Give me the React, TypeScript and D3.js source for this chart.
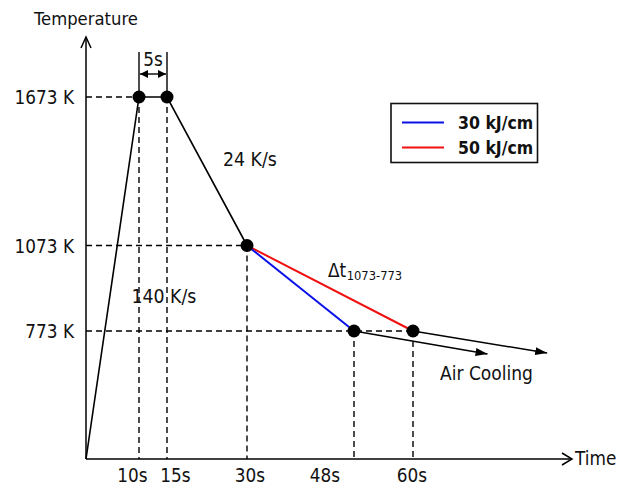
import React from "react";
import * as d3 from "d3";

// ---- data ----
const profileTimes = [0, 10, 15, 30];
const profileTemps = [0, 1673, 1673, 1073];
const pointTimes = [10, 15, 30, 48, 60];
const pointTemps = [1673, 1673, 1073, 773, 773];
const series30Times = [30, 48];
const series30Temps = [1073, 773];
const series50Times = [30, 60];
const series50Temps = [1073, 773];
const airStartTimes = [48, 60];
const airStartTemps = [773, 773];
const airEndTimes = [75, 87];
const airEndTemps = [634, 640];
const xTickValues = [10, 15, 30, 48, 60];
const xTickLabels = ["10s", "15s", "30s", "48s", "60s"];
const yTickValues = [1673, 1073, 773];
const yTickLabels = ["1673 K", "1073 K", "773 K"];
const legendLabels = ["30 kJ/cm", "50 kJ/cm"];
const seriesColors = ["#0a12e8", "#f01010"];

// ---- layout ----
const W = 631;
const H = 486;
const FONT = "'DejaVu Sans Condensed', 'DejaVu Sans', sans-serif";
const FS = 18.8;
const xLabelNudge = [-6.5, 8.5, 3, -29, -1];

const x = d3
  .scaleLinear()
  .domain([0, 10, 15, 30, 48, 60, 92])
  .range([86, 139, 167, 247, 354, 413, 572]);
const y = d3
  .scaleLinear()
  .domain([0, 773, 1073, 1673, 1916])
  .range([459, 331, 245.5, 97, 37]);

const line = d3
  .line<[number, number]>()
  .x((d) => x(d[0]))
  .y((d) => y(d[1]));

const zip = (a: number[], b: number[]) => a.map((v, i) => [v, b[i]] as [number, number]);

export default function App() {
  const x0 = x(0);
  const y0 = y(0);
  const xEnd = x(92);
  const yEnd = y(1916);
  const dash = "6,4";
  return (
    <svg
      width={W}
      height={H}
      style={{ position: "absolute", left: 0, top: 0, background: "#fff" }}
      fontFamily={FONT}
      fontStretch="condensed"
    >
      <defs>
        <marker id="tri" viewBox="0 0 12 8" refX="12" refY="4" markerWidth="12" markerHeight="8" markerUnits="userSpaceOnUse" orient="auto">
          <path d="M0,0 L12,4 L0,8 Z" fill="#000" />
        </marker>
        <marker id="dbl" viewBox="0 0 8 8" refX="8" refY="4" markerWidth="8" markerHeight="8" markerUnits="userSpaceOnUse" orient="auto-start-reverse">
          <path d="M0,0 L8,4 L0,8 Z" fill="#000" />
        </marker>
      </defs>

      {/* axes */}
      <line x1={x0} y1={y0} x2={x0} y2={yEnd} stroke="#000" strokeWidth={1.5} />
      <polyline points={`${x0 - 5},${yEnd + 11} ${x0},${yEnd} ${x0 + 5},${yEnd + 11}`} fill="none" stroke="#000" strokeWidth={1.5} />
      <line x1={x0} y1={y0} x2={xEnd} y2={y0} stroke="#000" strokeWidth={1.5} />
      <polyline points={`${xEnd - 10},${y0 - 6} ${xEnd},${y0} ${xEnd - 10},${y0 + 6}`} fill="none" stroke="#000" strokeWidth={1.5} />
      <text x={x0} y={25} fontSize={18.3} textAnchor="middle" fill="#111">Temperature</text>
      <text x={xEnd + 3} y={465} fontSize={FS} fill="#111">Time</text>

      {/* horizontal dashed guides */}
      {yTickValues.map((t, i) => {
        const reachTime = d3.max(pointTimes.filter((_, j) => pointTemps[j] === t)) as number;
        const xr = t === 1673 ? x(d3.min(pointTimes.filter((_, j) => pointTemps[j] === t)) as number) : x(reachTime);
        return (
          <g key={"h" + i}>
            <line x1={x0} y1={y(t)} x2={xr} y2={y(t)} stroke="#000" strokeWidth={1.4} strokeDasharray={dash} />
            <text x={74} y={y(t) + 7} fontSize={FS} textAnchor="end" fill="#111">{yTickLabels[i]}</text>
          </g>
        );
      })}

      {/* vertical dashed guides */}
      {xTickValues.map((t, i) => {
        const T = pointTemps[pointTimes.indexOf(t)];
        return (
          <g key={"v" + i}>
            <line x1={x(t)} y1={y(T)} x2={x(t)} y2={y0} stroke="#000" strokeWidth={1.4} strokeDasharray={dash} />
            <text x={x(t) + xLabelNudge[i]} y={481.5} fontSize={FS} textAnchor="middle" fill="#111">{xTickLabels[i]}</text>
          </g>
        );
      })}

      {/* 5s bracket */}
      <line x1={x(10)} y1={52} x2={x(10)} y2={y(1673)} stroke="#000" strokeWidth={1.4} />
      <line x1={x(15)} y1={52} x2={x(15)} y2={y(1673)} stroke="#000" strokeWidth={1.4} />
      <line x1={x(10) + 1} y1={74} x2={x(15) - 1} y2={74} stroke="#000" strokeWidth={1.4} markerStart="url(#dbl)" markerEnd="url(#dbl)" />
      <text x={(x(10) + x(15)) / 2} y={65.5} fontSize={FS} textAnchor="middle" fill="#111">5s</text>

      {/* cooling series */}
      <path d={line(zip(series50Times, series50Temps)) || ""} fill="none" stroke={seriesColors[1]} strokeWidth={2} />
      <path d={line(zip(series30Times, series30Temps)) || ""} fill="none" stroke={seriesColors[0]} strokeWidth={2} />

      {/* main profile */}
      <path d={line(zip(profileTimes, profileTemps)) || ""} fill="none" stroke="#000" strokeWidth={1.6} />

      {/* air cooling arrows */}
      {airStartTimes.map((t, i) => (
        <line
          key={"a" + i}
          x1={x(t)}
          y1={y(airStartTemps[i])}
          x2={x(airEndTimes[i])}
          y2={y(airEndTemps[i])}
          stroke="#000"
          strokeWidth={1.5}
          markerEnd="url(#tri)"
        />
      ))}

      {/* points */}
      {pointTimes.map((t, i) => (
        <circle key={"p" + i} cx={x(t)} cy={y(pointTemps[i])} r={6.5} fill="#000" />
      ))}

      {/* annotations */}
      <text x={223} y={166} fontSize={19.3} fill="#111">24 K/s</text>
      <text x={131.5} y={303} fontSize={19.3} fill="#111">140 K/s</text>
      <text x={440} y={380} fontSize={19} fill="#111">Air Cooling</text>
      <text x={328} y={276.5} fontSize={FS} fill="#111">
        Δt
        <tspan fontSize={12.8} dy={3.5} dx={0.5}>1073-773</tspan>
      </text>

      {/* legend */}
      <rect x={391} y={103.5} width={146.5} height={59} fill="#fff" stroke="#111" strokeWidth={1.6} />
      {legendLabels.map((lab, i) => (
        <g key={"l" + i}>
          <line x1={402} y1={122.5 + i * 25} x2={444} y2={122.5 + i * 25} stroke={seriesColors[i]} strokeWidth={2} />
          <text x={458} y={129 + i * 25} fontSize={17.5} fontWeight="bold" fill="#111">{lab}</text>
        </g>
      ))}
    </svg>
  );
}
